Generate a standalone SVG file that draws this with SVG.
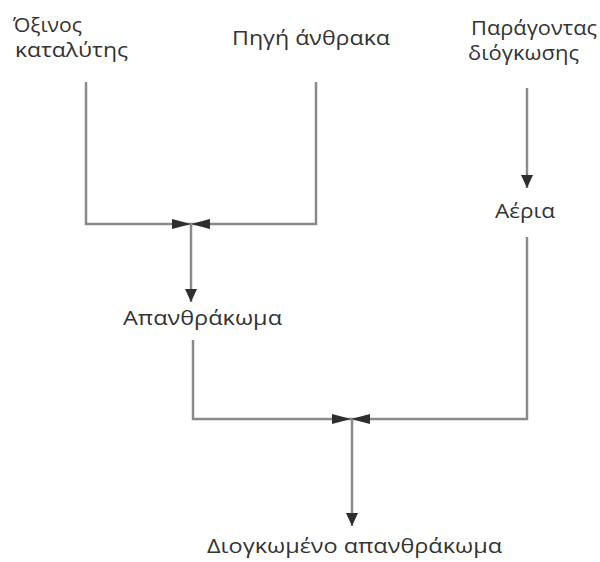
<svg xmlns="http://www.w3.org/2000/svg" width="600" height="562" viewBox="0 0 600 562">
<style>
.t{font-family:"Open Sans","Noto Sans","DejaVu Sans",sans-serif;font-size:20px;fill:#333333}
.c{fill:none;stroke:#8a8a8a;stroke-width:2.5}
</style>
<defs>
<marker id="bow" markerUnits="userSpaceOnUse" markerWidth="20" markerHeight="12" refX="19" refY="5" orient="auto" viewBox="0 0 20 10">
<path d="M0,0 L19,5 L0,10 Z" fill="#2e2e2e"/>
</marker>
<marker id="dn" markerUnits="userSpaceOnUse" markerWidth="14" markerHeight="12" refX="13" refY="6" orient="auto" viewBox="0 0 14 12">
<path d="M0,0 L13,6 L0,12 Z" fill="#2e2e2e"/>
</marker>
</defs>
<rect width="600" height="562" fill="#ffffff"/>
<g id="connectors">
<path class="c" d="M86,82 V224 H191" marker-end="url(#bow)"/>
<path class="c" d="M316,82 V224 H191" marker-end="url(#bow)"/>
<path class="c" d="M191,224 V302" marker-end="url(#dn)"/>
<path class="c" d="M527,88 V188" marker-end="url(#dn)"/>
<path class="c" d="M193,340 V419 H351" marker-end="url(#bow)"/>
<path class="c" d="M527,237 V419 H351" marker-end="url(#bow)"/>
<path class="c" d="M352,419 V526" marker-end="url(#dn)"/>
</g>
<g id="acid-catalyst">
<text class="t" x="13" y="32" textLength="69" lengthAdjust="spacingAndGlyphs">Όξινος</text>
<text class="t" x="15" y="57" textLength="113" lengthAdjust="spacingAndGlyphs">καταλύτης</text>
</g>
<g id="carbon-source">
<text class="t" x="232" y="45" textLength="158" lengthAdjust="spacingAndGlyphs">Πηγή άνθρακα</text>
</g>
<g id="blowing-agent">
<text class="t" x="471" y="35" textLength="126" lengthAdjust="spacingAndGlyphs">Παράγοντας</text>
<text class="t" x="468" y="60" textLength="111" lengthAdjust="spacingAndGlyphs">διόγκωσης</text>
</g>
<g id="gases">
<text class="t" x="495" y="218" textLength="60" lengthAdjust="spacingAndGlyphs">Αέρια</text>
</g>
<g id="char">
<text class="t" x="123" y="325" textLength="159" lengthAdjust="spacingAndGlyphs">Απανθράκωμα</text>
</g>
<g id="expanded-char">
<text class="t" x="207" y="553" textLength="295" lengthAdjust="spacingAndGlyphs">Διογκωμένο απανθράκωμα</text>
</g>
</svg>
